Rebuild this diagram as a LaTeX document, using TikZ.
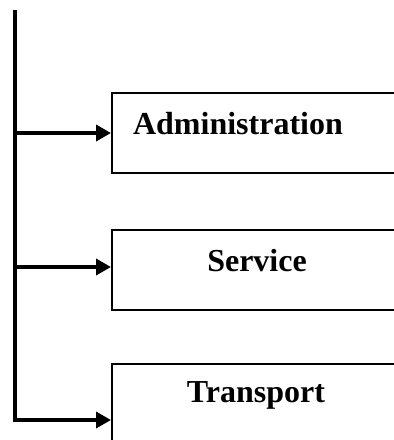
\documentclass[tikz,border=0pt]{standalone}
\usepackage{fontspec}
\setmainfont{Liberation Serif}
\usetikzlibrary{positioning,arrows.meta}

\begin{document}
\begin{tikzpicture}[
  x=1pt, y=-1pt, every node/.style={font=\fontsize{32}{36}\selectfont\bfseries},
  unit/.style={draw=black, line width=2.4pt, minimum width=300pt, minimum height=80pt,
               inner sep=0pt, anchor=north west},
  lbl/.style={inner sep=0pt},
  link/.style={-{Triangle[length=15pt,width=16pt]}, line width=3.5pt}
]
\useasboundingbox (0,0) rectangle (394,440);
\clip (0,0) rectangle (394,440);

\node[unit] (admin) at (111,92) {};
\node[unit] (serv)  at (111,229) {};
\node[unit] (trans) at (111,363) {};

\node[lbl] (adminl) at (238,124) {Administration};
\node[lbl] (servl)  at (257,261) {Service};
\node[lbl] (transl) at (256,395) {Transport};

\coordinate (top) at (15,10);
\coordinate (s1) at (15,133);
\coordinate (s2) at (15,267);
\coordinate (s3) at (15,420);

\draw[line width=3.5pt] (top) -- ([yshift=-1.75pt]s3);
\draw[link] (s1) -- (s1 -| admin.west);
\draw[link] (s2) -- (s2 -| serv.west);
\draw[link] ([xshift=-1.75pt]s3) -- (s3 -| trans.west);
\end{tikzpicture}
\end{document}
